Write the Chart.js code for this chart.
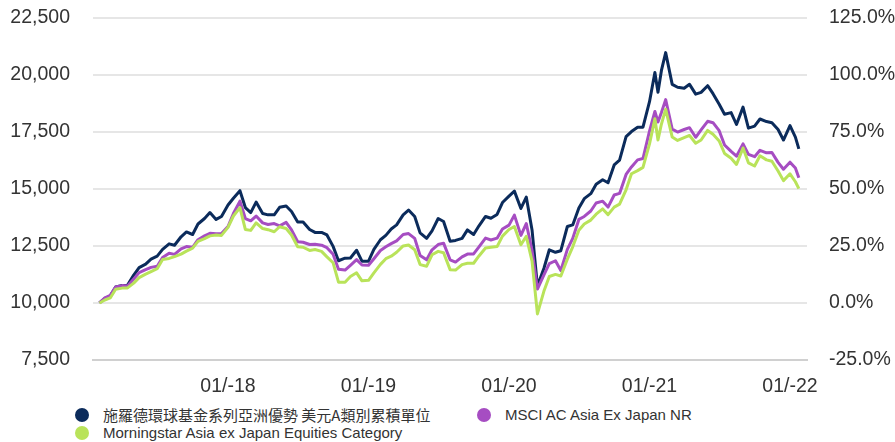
<!DOCTYPE html>
<html>
<head>
<meta charset="utf-8">
<script src="https://cdn.jsdelivr.net/npm/chart.js@4/dist/chart.umd.min.js"></script>
<style>
  body { margin: 0; background: #ffffff; font-family: "Liberation Sans", Arial, sans-serif; overflow: hidden; }
  #wrap { position: relative; width: 895px; height: 442px; overflow: hidden; }
  #box { position: absolute; left: 0; top: -17px; width: 895px; height: 417px; }
  #legend {
    position: absolute; left: 75px; top: 406px;
    display: grid; grid-template-columns: 402px auto; row-gap: 0;
    font-size: 15px; color: #333333; line-height: 18px;
  }
  #legend .item { display: flex; align-items: center; white-space: nowrap; }
  #legend .dot { width: 14px; height: 14px; border-radius: 50%; margin-right: 14px; flex: none; }
  #legend .cjk { font-family: "Noto Sans CJK TC", "Liberation Sans", sans-serif; }
</style>
</head>
<body>
<div id="wrap">
  <div id="box"><canvas id="perfChart"></canvas></div>
  <div id="legend"></div>
</div>
<script>
// semi-monthly observation dates
const dates = [
  '2017-02-01','2017-02-15','2017-03-01','2017-03-15','2017-04-01','2017-04-15','2017-05-01','2017-05-15','2017-06-01','2017-06-15','2017-07-01','2017-07-15','2017-08-01','2017-08-15','2017-09-01','2017-09-15','2017-10-01','2017-10-15','2017-11-01','2017-11-15','2017-12-01','2017-12-15',
  '2018-01-01','2018-01-15','2018-02-01','2018-02-15','2018-03-01','2018-03-15','2018-04-01','2018-04-15','2018-05-01','2018-05-15','2018-06-01','2018-06-15','2018-07-01','2018-07-15','2018-08-01','2018-08-15','2018-09-01','2018-09-15','2018-10-01','2018-10-15','2018-11-01','2018-11-15','2018-12-01','2018-12-15',
  '2019-01-01','2019-01-15','2019-02-01','2019-02-15','2019-03-01','2019-03-15','2019-04-01','2019-04-15','2019-05-01','2019-05-15','2019-06-01','2019-06-15','2019-07-01','2019-07-15','2019-08-01','2019-08-15','2019-09-01','2019-09-15','2019-10-01','2019-10-15','2019-11-01','2019-11-15','2019-12-01','2019-12-15',
  '2020-01-01','2020-01-15','2020-02-01','2020-02-15','2020-03-01','2020-03-15','2020-04-01','2020-04-15','2020-05-01','2020-05-15','2020-06-01','2020-06-15','2020-07-01','2020-07-15','2020-08-01','2020-08-15','2020-09-01','2020-09-15','2020-10-01','2020-10-15','2020-11-01','2020-11-15','2020-12-01','2020-12-15',
  '2021-01-01','2021-01-15','2021-01-23','2021-02-01','2021-02-12','2021-03-01','2021-03-15','2021-04-01','2021-04-15','2021-05-01','2021-05-15','2021-06-01','2021-06-15','2021-07-01','2021-07-15','2021-08-01','2021-08-15','2021-09-01','2021-09-15','2021-10-01','2021-10-15','2021-11-01','2021-11-15','2021-12-01','2021-12-15',
  '2022-01-01','2022-01-15','2022-01-24'
];

// 施羅德環球基金系列亞洲優勢 美元A類別累積單位
const fundValues = [
  10000, 10200, 10300, 10700, 10770, 10780, 11220, 11550, 11700, 11920,
  12050, 12350, 12590, 12530, 12900, 13110, 13000, 13460, 13700, 13960,
  13660, 13790, 14290, 14590, 14920, 14180, 13960, 14420, 13920, 13860,
  13860, 14190, 14250, 14010, 13550, 13550, 13220, 13090, 13090, 12980,
  12480, 11850, 11960, 11970, 12310, 11830, 11830, 12350, 12770, 12960,
  13240, 13420, 13860, 14070, 13790, 13070, 12830, 13160, 13700, 13570,
  12700, 12740, 12830, 13200, 13000, 13380, 13790, 13710, 13880, 14400,
  14680, 14900, 14140, 14640, 13200, 10740, 11520, 12330, 12220, 12290,
  13350, 13420, 14160, 14570, 14790, 15200, 15400, 15270, 16050, 16260,
  17290, 17510, 17700, 17700, 18820, 20100, 19230, 20190, 20970, 19580, 19450,
  19410, 19580, 19150, 19230, 19520, 19170, 18710, 18270, 18340, 17820,
  18580, 17660, 17750, 18060, 17950, 17900, 17600, 17140, 17770, 17270,
  16750
];

// MSCI AC Asia Ex Japan NR
const indexValues = [
  10000, 10220, 10330, 10700, 10760, 10740, 11050, 11330, 11460, 11560,
  11610, 11990, 12180, 12130, 12370, 12470, 12440, 12770, 12940, 13050,
  13030, 13040, 13350, 13920, 14460, 13700, 13600, 13810, 13510, 13440,
  13480, 13380, 13530, 13200, 12680, 12660, 12560, 12570, 12530, 12420,
  12130, 11480, 11440, 11650, 11900, 11660, 11650, 11940, 12300, 12460,
  12600, 12720, 13000, 13040, 12830, 12080, 11890, 12330, 12560, 12620,
  11890, 11790, 12020, 12140, 12150, 12460, 12840, 12760, 12840, 13240,
  13410, 13850, 12960, 13480, 12310, 10610, 11230, 11720, 11850, 11420,
  12350, 12830, 13660, 13790, 14030, 14380, 14460, 14200, 14730, 14800,
  15630, 15960, 16270, 16330, 17530, 18390, 17930, 18350, 18910, 17620, 17490,
  17600, 17680, 17260, 17580, 17960, 17900, 17550, 16920, 16640, 16430,
  16970, 16510, 16410, 16690, 16580, 16590, 16160, 15860, 16170, 15910,
  15490
];

// Morningstar Asia ex Japan Equities Category
const categoryValues = [
  10000, 10130, 10220, 10600, 10650, 10660, 10870, 11110, 11260, 11370,
  11500, 11900, 11950, 12030, 12140, 12270, 12400, 12700, 12820, 12940,
  12980, 12960, 13310, 13810, 14180, 13220, 13180, 13510, 13260, 13210,
  13120, 13340, 13260, 12980, 12460, 12440, 12300, 12340, 12260, 12020,
  11760, 10910, 10910, 11160, 11320, 10970, 10990, 11320, 11690, 11940,
  12050, 12220, 12500, 12540, 12330, 11680, 11610, 12110, 12260, 12200,
  11460, 11440, 11680, 11740, 11740, 12060, 12410, 12440, 12470, 12930,
  13220, 13350, 12550, 12920, 11830, 9520, 10520, 11160, 11250, 11180,
  11920, 12460, 13190, 13460, 13630, 13890, 14120, 13870, 14200, 14330,
  14960, 15660, 15800, 15940, 16970, 18070, 17140, 17840, 18490, 17270, 17120,
  17240, 17340, 17000, 17140, 17560, 17390, 17100, 16550, 16340, 16070,
  16790, 16140, 16000, 16450, 16270, 16210, 15780, 15360, 15660, 15310,
  15010
];

const tickYears = [2018, 2019, 2020, 2021, 2022];
const tickLabels = ['01/-18', '01/-19', '01/-20', '01/-21', '01/-22'];

const seriesNames = [
  '施羅德環球基金系列亞洲優勢 美元A類別累積單位',
  'MSCI AC Asia Ex Japan NR',
  'Morningstar Asia ex Japan Equities Category'
];
const seriesColors = ['#0b2b5b', '#a64dc2', '#b9e35a'];

function toYear(s) {
    const d = Date.parse(s + 'T00:00:00Z');
    const y = Number(s.slice(0, 4));
    const a = Date.UTC(y, 0, 1), b = Date.UTC(y + 1, 0, 1);
    return y + (d - a) / (b - a);
}

function points(values) {
    return values.map((v, i) => ({ x: toYear(dates[i]), y: v }));
}

const tickFont = { family: '"Liberation Sans", Arial, sans-serif', size: 19.5 };
const tickColor = '#333333';

function makeLine(idx, values, order) {
    return {
        label: seriesNames[idx],
        data: points(values),
        borderColor: seriesColors[idx],
        backgroundColor: seriesColors[idx],
        borderWidth: 3,
        pointRadius: 0,
        tension: 0,
        borderJoinStyle: 'round',
        order: order,
        yAxisID: 'y'
    };
}

new Chart(document.getElementById('perfChart'), {
    type: 'line',
    data: {
        datasets: [
            makeLine(2, categoryValues, 1),
            makeLine(1, indexValues, 2),
            makeLine(0, fundValues, 3)
        ]
    },
    options: {
        responsive: true,
        maintainAspectRatio: false,
        animation: false,
        devicePixelRatio: 1,
        layout: { padding: { top: 0, left: 0, right: 0, bottom: 0 } },
        plugins: {
            legend: { display: false },
            tooltip: { enabled: false }
        },
        scales: {
            x: {
                type: 'linear',
                min: 2017.039,
                max: 2022.121,
                grid: { display: false, drawTicks: false },
                border: { display: true, color: '#d0d0d0', width: 2 },
                afterBuildTicks: function (scale) {
                    scale.ticks = tickYears.map(v => ({ value: v }));
                },
                afterFit: function (scale) { scale.height = 40; },
                ticks: {
                    font: tickFont,
                    color: tickColor,
                    padding: 15,
                    maxRotation: 0,
                    autoSkip: false,
                    callback: function (v) {
                        const k = tickYears.indexOf(v);
                        return k >= 0 ? tickLabels[k] : '';
                    }
                }
            },
            y: {
                position: 'left',
                min: 7500,
                max: 22500,
                grid: { color: '#e6e6e6', lineWidth: 2, drawTicks: false },
                border: { display: false },
                afterFit: function (scale) { scale.width = 93; },
                ticks: {
                    stepSize: 2500,
                    font: tickFont,
                    color: tickColor,
                    padding: 23,
                    callback: v => v.toLocaleString('en-US')
                }
            },
            y2: {
                position: 'right',
                min: -25,
                max: 125,
                grid: { display: false, drawTicks: false },
                border: { display: false },
                afterFit: function (scale) { scale.width = 88; },
                ticks: {
                    stepSize: 25,
                    font: tickFont,
                    color: tickColor,
                    padding: 22,
                    callback: v => v.toFixed(1) + '%'
                }
            }
        }
    }
});

// legend: fund, index on the first row, category on the second
const legend = document.getElementById('legend');
[0, 1, 2].forEach(function (i) {
    const item = document.createElement('div');
    item.className = 'item';
    const dot = document.createElement('span');
    dot.className = 'dot';
    dot.style.background = seriesColors[i];
    const txt = document.createElement('span');
    txt.textContent = seriesNames[i];
    if (i === 0) txt.className = 'cjk';
    item.appendChild(dot);
    item.appendChild(txt);
    legend.appendChild(item);
});
</script>
</body>
</html>
